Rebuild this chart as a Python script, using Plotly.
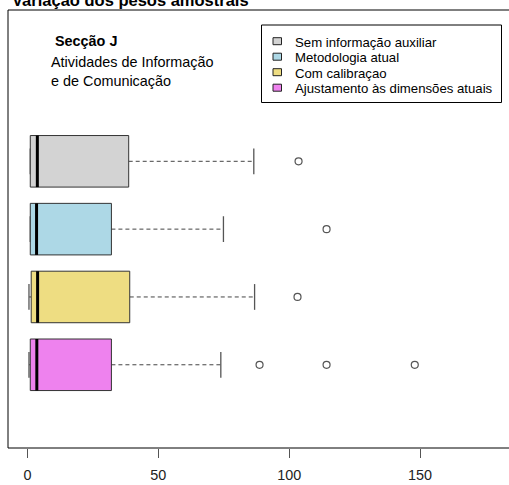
import plotly.graph_objects as go

# Boxplot statistics of the sampling weights, one entry per estimation method
methods = ["Sem informação auxiliar", "Metodologia atual", "Com calibraçao",
           "Ajustamento às dimensões atuais"]
colors = ["#D3D3D3", "#ADD8E6", "#EEDD82", "#EE82EE"]
lower = [1.1, 1.1, 0.6, 0.6]
q1 = [1.1, 1.1, 1.45, 1.1]
median = [3.8, 3.5, 3.9, 3.6]
q3 = [38.7, 32.1, 39.1, 32.1]
upper = [86.5, 74.9, 86.8, 73.9]
outliers = [[103.6], [114.3], [103.2], [88.7, 114.3, 148.0]]
positions = [4, 3, 2, 1]
tick_vals = [0, 50, 100, 150]

W, H = 509, 485
ML, MR, MT, MB = 8, 0, 10, 37
BOX_HALF = 0.38
CAP_HALF = 0.19
FONT = "Liberation Sans, Arial, sans-serif"


def px(x):
    return (x - ML) / (W - ML - MR)


def py(y):
    return (H - MB - y) / (H - MT - MB)


fig = go.Figure()

for i, name in enumerate(methods):
    p = positions[i]
    # whiskers (dashed)
    fig.add_trace(go.Scatter(x=[q3[i], upper[i]], y=[p, p], mode="lines",
                             line=dict(color="#444", width=1, dash="4px,3px"),
                             showlegend=False, hoverinfo="skip"))
    if lower[i] < q1[i]:
        fig.add_trace(go.Scatter(x=[lower[i], q1[i]], y=[p, p], mode="lines",
                                 line=dict(color="#444", width=1, dash="4px,3px"),
                                 showlegend=False, hoverinfo="skip"))
    # whisker caps
    for v in (lower[i], upper[i]):
        fig.add_trace(go.Scatter(x=[v, v], y=[p - CAP_HALF, p + CAP_HALF], mode="lines",
                                 line=dict(color="#555", width=1.3),
                                 showlegend=False, hoverinfo="skip"))
    # box
    fig.add_trace(go.Scatter(
        x=[q1[i], q3[i], q3[i], q1[i], q1[i]],
        y=[p - BOX_HALF, p - BOX_HALF, p + BOX_HALF, p + BOX_HALF, p - BOX_HALF],
        mode="lines", fill="toself", fillcolor=colors[i],
        line=dict(color="#333", width=1), name=name, showlegend=False,
        hoverinfo="skip"))
    # median
    fig.add_trace(go.Scatter(x=[median[i], median[i]], y=[p - BOX_HALF, p + BOX_HALF],
                             mode="lines", line=dict(color="black", width=3),
                             showlegend=False, hoverinfo="skip"))
    # outliers
    fig.add_trace(go.Scatter(x=outliers[i], y=[p] * len(outliers[i]), mode="markers",
                             marker=dict(symbol="circle-open", size=7,
                                         color="#555", line=dict(width=1.2)),
                             showlegend=False, hoverinfo="skip"))

shapes = [dict(type="rect", xref="paper", yref="paper", x0=0, x1=1.05, y0=0, y1=1,
               line=dict(color="black", width=1))]
annotations = []

# legend box
shapes.append(dict(type="rect", xref="paper", yref="paper",
                   x0=px(261.5), x1=px(501.5), y0=py(102.5), y1=py(25),
                   line=dict(color="black", width=1), fillcolor="white"))
for i, name in enumerate(methods):
    cy = 41.2 + 15.5 * i
    shapes.append(dict(type="rect", xref="paper", yref="paper",
                       x0=px(273), x1=px(281.5), y0=py(cy + 3.5), y1=py(cy - 3.5),
                       line=dict(color="#222", width=1), fillcolor=colors[i]))
    annotations.append(dict(text=name, xref="paper", yref="paper", x=px(292.5),
                            y=py(cy + 0.8), xanchor="left", yanchor="middle",
                            showarrow=False, font=dict(family=FONT, size=13.2, color="black")))

# section label
annotations.append(dict(text="<b>Secção J</b>", xref="paper", yref="paper", x=px(52.5),
                        y=py(41.5), xanchor="left", yanchor="middle", showarrow=False,
                        font=dict(family=FONT, size=14.4, color="black")))
for txt, cy in (("Atividades de Informação", 61.7), ("e de Comunicação", 81.2)):
    annotations.append(dict(text=txt, xref="paper", yref="paper", x=px(48.8),
                            y=py(cy), xanchor="left", yanchor="middle", showarrow=False,
                            font=dict(family=FONT, size=14.4, color="black")))

# main title
annotations.append(dict(text="<b>Variação dos pesos amostrais</b>", xref="paper",
                        yref="paper", x=px(9.5), y=py(-0.5), xanchor="left",
                        yanchor="middle", showarrow=False,
                        font=dict(family=FONT, size=16.5, color="black")))

fig.update_layout(
    width=W, height=H, autosize=False,
    margin=dict(l=ML, r=MR, t=MT, b=MB, pad=0),
    plot_bgcolor="white", paper_bgcolor="white",
    shapes=shapes, annotations=annotations,
    xaxis=dict(range=[-7.41, 184.0], tickvals=tick_vals, ticks="outside", ticklen=9,
               tickcolor="#555", tickwidth=1, showgrid=False, zeroline=False,
               showline=False, ticklabelstandoff=5,
               tickfont=dict(family=FONT, size=14.4, color="#222")),
    yaxis=dict(range=[-0.227, 6.231], showticklabels=False, ticks="", showgrid=False,
               zeroline=False, showline=False),
)

fig.write_html("out.html")
